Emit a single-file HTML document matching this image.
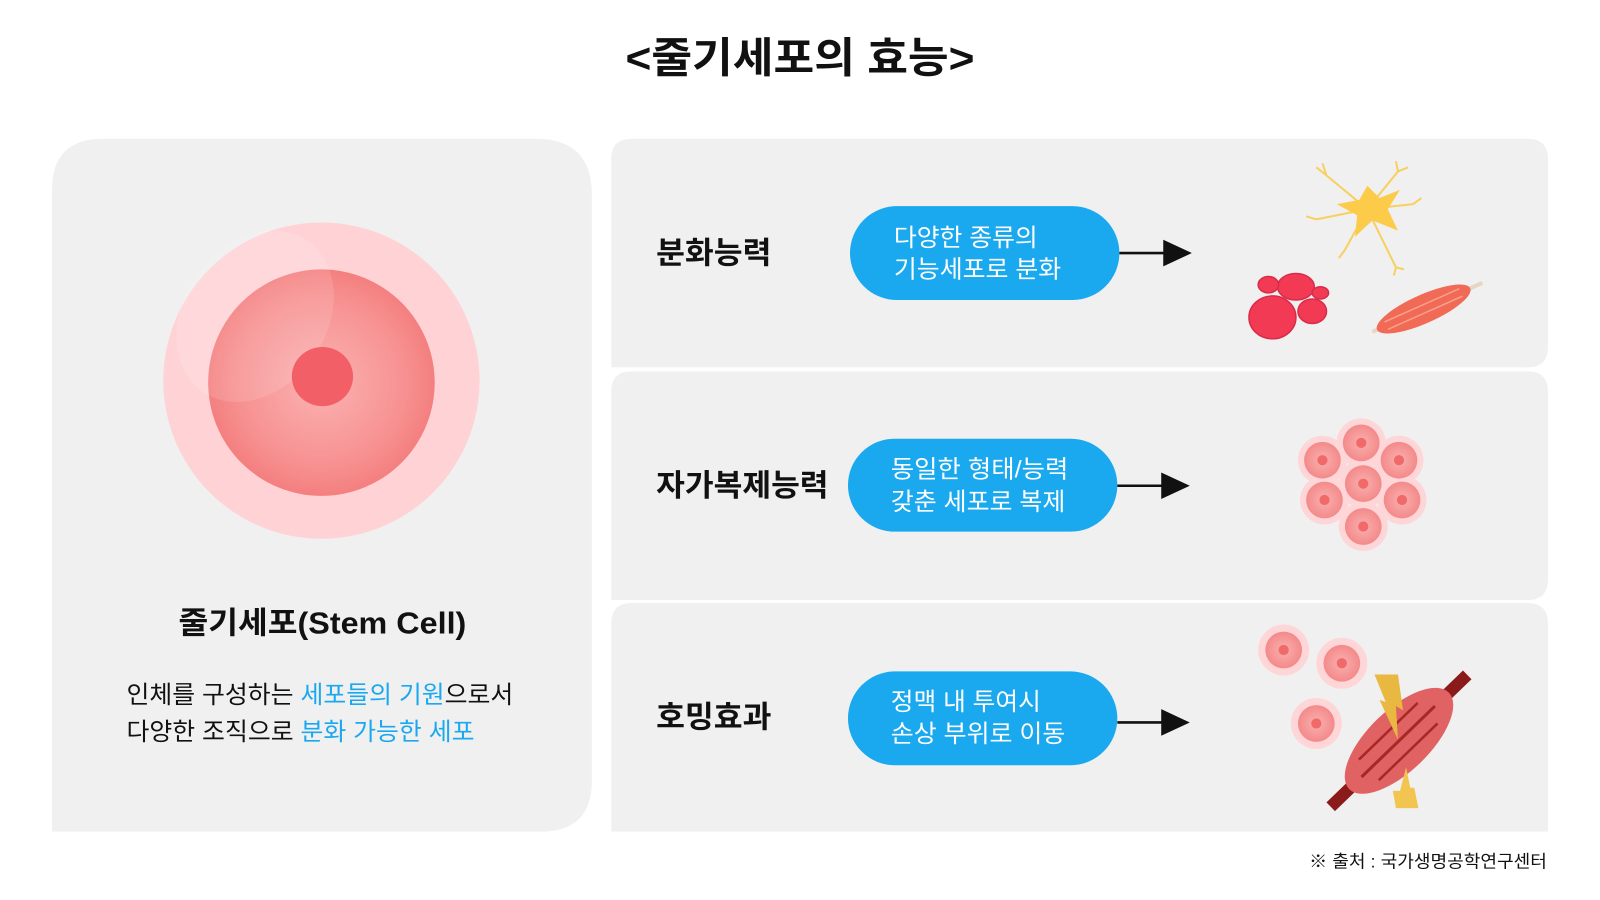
<!DOCTYPE html>
<html><head><meta charset="utf-8"><style>
html,body{margin:0;padding:0;background:#fff;}
svg{display:block;}
text{font-family:"Liberation Sans","Noto Sans CJK KR",sans-serif;}
</style></head><body>
<svg width="1600" height="900" viewBox="0 0 1568 882" preserveAspectRatio="none" xmlns="http://www.w3.org/2000/svg">
<defs>
<radialGradient id="inner" cx="0.5" cy="0.5" r="0.5">
<stop offset="0" stop-color="#fbb3b3"/><stop offset="0.75" stop-color="#f79090"/><stop offset="1" stop-color="#f47f7f"/>
</radialGradient>
<radialGradient id="sm" cx="0.5" cy="0.5" r="0.5">
<stop offset="0" stop-color="#fbb0b0"/><stop offset="1" stop-color="#f38a8a"/>
</radialGradient>
</defs>
<rect width="1568" height="882" fill="#fff"/>
<text x="613" y="71" font-size="41" font-weight="bold" fill="#111" textLength="342" lengthAdjust="spacingAndGlyphs">&lt;줄기세포의 효능&gt;</text>

<!-- left panel -->
<path d="M51,815 L51,186 Q51,136 101,136 L525,136 Q580,136 580,191 L580,765 Q580,815 530,815 Z" fill="#f0f0f0"/>
<circle cx="315" cy="373" r="155" fill="#ffd3d6"/>
<circle cx="315" cy="375" r="111" fill="url(#inner)"/>
<ellipse cx="250" cy="310" rx="70" ry="90" fill="#ffffff" opacity="0.12" transform="rotate(35 250 310)"/>
<ellipse cx="316" cy="369" rx="30" ry="29" fill="#f25f66"/>
<text x="175" y="621" font-size="30" font-weight="bold" fill="#111" textLength="282" lengthAdjust="spacingAndGlyphs">줄기세포(Stem Cell)</text>
<text x="124" y="689" font-size="24" fill="#111" textLength="379" lengthAdjust="spacingAndGlyphs">인체를 구성하는 <tspan fill="#1aa9ef">세포들의 기원</tspan>으로서</text>
<text x="124" y="725" font-size="24" fill="#111" textLength="341" lengthAdjust="spacingAndGlyphs">다양한 조직으로 <tspan fill="#1aa9ef">분화 가능한 세포</tspan></text>

<!-- right panels -->
<path d="M599,360 L599,156 Q599,136 619,136 L1497,136 Q1517,136 1517,156 L1517,340 Q1517,360 1497,360 Z" fill="#f0f0f0"/>
<path d="M599,588 L599,384 Q599,364 619,364 L1497,364 Q1517,364 1517,384 L1517,568 Q1517,588 1497,588 Z" fill="#f0f0f0"/>
<path d="M599,815 L599,611 Q599,591 619,591 L1497,591 Q1517,591 1517,611 L1517,815 Z" fill="#f0f0f0"/>

<text x="643" y="258" font-size="30" font-weight="bold" fill="#111" textLength="113" lengthAdjust="spacingAndGlyphs">분화능력</text>
<text x="643" y="486" font-size="30" font-weight="bold" fill="#111" textLength="169" lengthAdjust="spacingAndGlyphs">자가복제능력</text>
<text x="643" y="713" font-size="30" font-weight="bold" fill="#111" textLength="113" lengthAdjust="spacingAndGlyphs">호밍효과</text>

<rect x="833" y="202" width="264" height="92" rx="46" fill="#1aa9ef"/>
<text x="876" y="241" font-size="24" fill="#fff" textLength="141" lengthAdjust="spacingAndGlyphs">다양한 종류의</text>
<text x="876" y="272" font-size="24" fill="#fff" textLength="164" lengthAdjust="spacingAndGlyphs">기능세포로 분화</text>
<rect x="831" y="430" width="264" height="91" rx="45.5" fill="#1aa9ef"/>
<text x="873" y="468" font-size="24" fill="#fff" textLength="174" lengthAdjust="spacingAndGlyphs">동일한 형태/능력</text>
<text x="873" y="500" font-size="24" fill="#fff" textLength="171" lengthAdjust="spacingAndGlyphs">갖춘 세포로 복제</text>
<rect x="831" y="658" width="264" height="92" rx="46" fill="#1aa9ef"/>
<text x="873" y="696" font-size="24" fill="#fff" textLength="147" lengthAdjust="spacingAndGlyphs">정맥 내 투여시</text>
<text x="873" y="727" font-size="24" fill="#fff" textLength="171" lengthAdjust="spacingAndGlyphs">손상 부위로 이동</text>

<g stroke="#111" stroke-width="2.5"><line x1="1097" y1="248" x2="1142" y2="248"/><line x1="1095" y1="476" x2="1140" y2="476"/><line x1="1095" y1="708" x2="1140" y2="708"/></g>
<g fill="#111"><polygon points="1140,235 1168,248 1140,261"/><polygon points="1138,463 1166,476 1138,489"/><polygon points="1138,695 1166,708 1138,721"/></g>

<!-- neuron -->
<g stroke="#f7d061" stroke-width="2" fill="none">
<path d="M1340,205 L1300,172 M1300,172 l-10,-8 M1300,172 l-4,-12 M1340,205 L1290,215 M1290,215 l-10,-3 M1340,205 L1318,245 M1318,245 l-6,8 M1340,205 L1370,168 M1370,168 l-2,-10 M1370,168 l10,-4 M1340,205 L1385,200 M1385,200 l8,-6 M1340,205 L1368,262 M1368,262 l8,2 M1368,262 l-2,8"/>
</g>
<path d="M1340,182 L1352,194 L1372,186 L1360,205 L1370,226 L1345,216 L1328,232 L1330,211 L1310,200 L1332,196 Z" fill="#fdcb4a"/>
<!-- rbc -->
<g fill="#f23a55" stroke="#d92c48" stroke-width="1.5">
<ellipse cx="1247" cy="311" rx="23" ry="21"/><ellipse cx="1270" cy="281" rx="18" ry="13"/><ellipse cx="1286" cy="305" rx="14" ry="12"/><ellipse cx="1243" cy="279" rx="10" ry="8"/><ellipse cx="1294" cy="287" rx="8" ry="6"/>
</g>
<!-- muscle 1 -->
<g transform="rotate(-24 1397 302)">
<line x1="1340" y1="302" x2="1458" y2="302" stroke="#e8d6c4" stroke-width="4"/>
<ellipse cx="1395" cy="302" rx="50" ry="14" fill="#f06a55"/>
<line x1="1355" y1="298" x2="1435" y2="298" stroke="#f8a08a" stroke-width="1.5"/>
<line x1="1355" y1="306" x2="1435" y2="306" stroke="#f8a08a" stroke-width="1.5"/>
</g>
<!-- cells -->
<g fill="#ffd6d8">
<circle cx="1334" cy="434" r="24"/><circle cx="1296" cy="451" r="24"/><circle cx="1371" cy="451" r="24"/><circle cx="1336" cy="474" r="24"/><circle cx="1298" cy="490" r="24"/><circle cx="1374" cy="490" r="24"/><circle cx="1336" cy="516" r="24"/>
<circle cx="1258" cy="637" r="25"/><circle cx="1315" cy="650" r="25"/><circle cx="1290" cy="709" r="25"/>
</g>
<g fill="url(#sm)">
<circle cx="1334" cy="434" r="18"/><circle cx="1296" cy="451" r="18"/><circle cx="1371" cy="451" r="18"/><circle cx="1336" cy="474" r="18"/><circle cx="1298" cy="490" r="18"/><circle cx="1374" cy="490" r="18"/><circle cx="1336" cy="516" r="18"/>
<circle cx="1258" cy="637" r="18"/><circle cx="1315" cy="650" r="18"/><circle cx="1290" cy="709" r="18"/>
</g>
<g fill="#f06a6a">
<circle cx="1334" cy="434" r="5"/><circle cx="1296" cy="451" r="5"/><circle cx="1371" cy="451" r="5"/><circle cx="1336" cy="474" r="5"/><circle cx="1298" cy="490" r="5"/><circle cx="1374" cy="490" r="5"/><circle cx="1336" cy="516" r="5"/>
<circle cx="1258" cy="637" r="5"/><circle cx="1315" cy="650" r="5"/><circle cx="1290" cy="709" r="5"/>
</g>
<!-- muscle 2 -->
<g transform="rotate(-44 1371 726)">
<rect x="1278" y="720" width="186" height="12" fill="#8b1a1a"/>
<ellipse cx="1371" cy="726" rx="68" ry="30" fill="#e06262"/>
<line x1="1320" y1="726" x2="1420" y2="726" stroke="#a82828" stroke-width="3"/>
<line x1="1330" y1="712" x2="1410" y2="712" stroke="#a82828" stroke-width="2.5"/>
<line x1="1330" y1="740" x2="1410" y2="740" stroke="#a82828" stroke-width="2.5"/>
</g>
<polygon points="1347,661 1370,661 1375,696 1368,692 1370,725 1352,686 1358,688" fill="#e8b840"/>
<polygon points="1378,752 1372,775 1365,775 1368,792 1390,792 1386,772 1382,772" fill="#f2c450"/>

<text x="1283" y="850" font-size="17" fill="#111" textLength="233" lengthAdjust="spacingAndGlyphs">※ 출처 : 국가생명공학연구센터</text>
</svg>
</body></html>
